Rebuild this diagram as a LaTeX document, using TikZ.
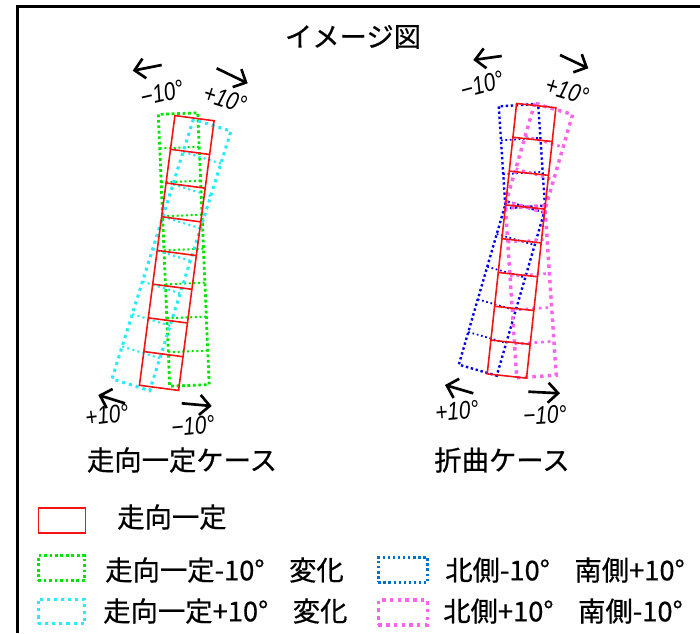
\documentclass[tikz,border=0pt]{standalone}
\usepackage{fontspec}
\newfontfamily\jp[FakeBold=0.6]{Noto Sans CJK JP}
\newfontfamily\degf[FakeStretch=0.82]{Liberation Sans}
\usetikzlibrary{arrows.meta}
\definecolor{cred}{RGB}{245,20,20}
\definecolor{cgreen}{RGB}{0,230,0}
\definecolor{ccyan}{RGB}{40,235,250}
\definecolor{cblue}{RGB}{0,0,235}
\definecolor{lblue}{RGB}{0,112,200}
\definecolor{cpink}{RGB}{250,100,235}
\tikzset{
  redline/.style={draw=cred, line width=1.2pt},
  greendot/.style={draw=cgreen, line width=2.1pt, dash pattern=on 2.1pt off 2pt},
  greenin/.style={draw=cgreen, line width=1.5pt, dash pattern=on 1.5pt off 2pt},
  cyandot/.style={draw=ccyan, line width=2.3pt, dash pattern=on 2.3pt off 3pt},
  cyanin/.style={draw=ccyan, line width=1.6pt, dash pattern=on 1.6pt off 2.4pt},
  bluedot/.style={draw=cblue, line width=1.8pt, dash pattern=on 1.8pt off 2pt},
  bluein/.style={draw=cblue, line width=1.3pt, dash pattern=on 1.3pt off 2pt},
  pinkdot/.style={draw=cpink, line width=2.6pt, dash pattern=on 2.6pt off 3.2pt},
  pinkin/.style={draw=cpink, line width=2pt, dash pattern=on 2pt off 3pt},
  arr/.style={line width=2pt, -{Straight Barb[length=7.5pt,width=15pt,line width=2pt]}},
  deglab/.style={font=\degf\itshape\fontsize{19}{19}\selectfont, inner sep=0pt},
  jptext/.style={font=\jp\fontsize{20.5}{21}\selectfont, inner sep=0pt},
  legbox/.style={minimum width=35pt, minimum height=18.5pt, inner sep=0pt},
}
\newcommand\mypart[7]{%
  \begin{scope}[shift={(#1,#2)},rotate=#3]
    \pgfmathtruncatemacro\nn{#5-1}
    \foreach \k in {1,...,\nn} \draw[#7] (-19.75,{#4+\k*34}) -- (19.75,{#4+\k*34});
    \draw[#6] (-19.75,#4) rectangle (19.75,{#4+#5*34});
  \end{scope}}
\begin{document}
\begin{tikzpicture}[x=0.75pt,y=-0.75pt]
\useasboundingbox (0,0) rectangle (700,633);
% frame
\draw[line width=2.3pt] (17.5,633) -- (17.5,6.5) -- (700,6.5);
% title
\node[jptext] (title) at (353,37) {イメージ図};
% left case
\mypart{183.75}{249.5}{2.4}{-136}{8}{greendot}{greenin}
\mypart{171.5}{255}{-17.4}{-136}{8}{cyandot}{cyanin}
\mypart{176.75}{253}{-7.5}{-136}{8}{redline}{redline}
% right case
\mypart{525.2}{206.9}{3.8}{-102}{3}{bluedot}{bluein}
\mypart{525.2}{206.9}{-16.2}{0}{5}{bluedot}{bluein}
\mypart{525.2}{206.9}{-16.2}{-102}{3}{pinkdot}{pinkin}
\mypart{525.2}{206.9}{3.8}{0}{5}{pinkdot}{pinkin}
\mypart{521.55}{240.8}{-6.2}{-136}{8}{redline}{redline}
% arrows
\coordinate (a1t) at (161.7,65);   \coordinate (a1h) at (132.7,70.7);
\coordinate (a2t) at (216.7,68.3); \coordinate (a2h) at (247.7,83.3);
\coordinate (a3t) at (125,403.3);  \coordinate (a3h) at (98.3,395);
\coordinate (a4t) at (181.7,403.3);\coordinate (a4h) at (211.7,406);
\coordinate (a5t) at (501.7,56);   \coordinate (a5h) at (473.3,60);
\coordinate (a6t) at (560,55);     \coordinate (a6h) at (588.3,68.3);
\coordinate (a7t) at (473.3,393.3);\coordinate (a7h) at (445,385);
\coordinate (a8t) at (528.3,391.7);\coordinate (a8h) at (560,393.3);
\foreach \i in {1,...,8} \draw[arr] (a\i t) -- (a\i h);
% degree labels
\node[deglab, rotate=13]  (d1) at (162,93)  {−10°};
\node[deglab, rotate=-18] (d2) at (225,99)  {+10°};
\node[deglab, rotate=7]   (d3) at (107,415) {+10°};
\node[deglab, rotate=5]   (d4) at (193,426) {−10°};
\node[deglab, rotate=15]  (d5) at (482,85)  {−10°};
\node[deglab, rotate=-17] (d6) at (567,91)  {+10°};
\node[deglab, rotate=5]   (d7) at (457,411) {+10°};
\node[deglab, rotate=3]   (d8) at (545,415) {−10°};
% captions
\node[jptext] (c1) at (182,460) {走向一定ケース};
\node[jptext] (c2) at (502,460) {折曲ケース};
% legend
\node[legbox, redline] (l1) at (62,520.5) {};
\node[jptext, anchor=west] (t1) at (117,517) {走向一定};
\node[legbox, greendot] (l2) at (61.5,568) {};
\node[jptext, anchor=west] (t2) at (105,570) {走向一定-10°\hspace{0.9em}変化};
\node[legbox, cyandot] (l3) at (61.5,611.5) {};
\node[jptext, anchor=west] (t3) at (103,611) {走向一定+10°\hspace{0.9em}変化};
\node[legbox, bluedot, draw=lblue, minimum width=37pt] (l4) at (403,570) {};
\node[jptext, anchor=west] (t4) at (445,570) {北側-10°\hspace{0.9em}南側+10°};
\node[legbox, pinkdot, minimum width=37pt] (l5) at (403,612.5) {};
\node[jptext, anchor=west] (t5) at (443,611) {北側+10°\hspace{0.9em}南側-10°};
\end{tikzpicture}
\end{document}
